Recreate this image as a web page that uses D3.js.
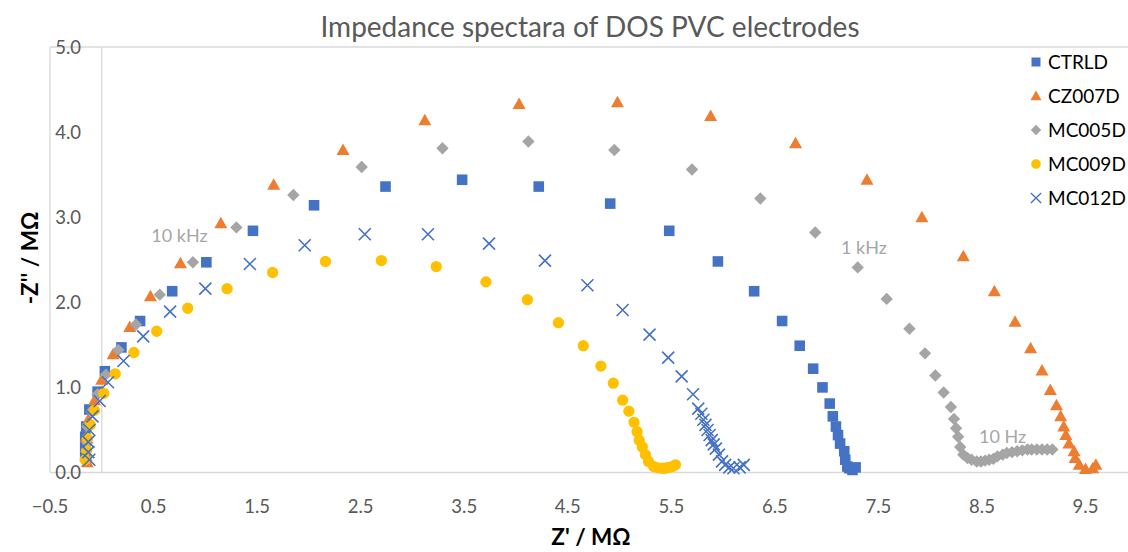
<!DOCTYPE html>
<html>
<head>
<meta charset="utf-8">
<script src="https://cdn.jsdelivr.net/npm/d3@7"></script>
<style>
  body { margin: 0; background: #fff; }
  svg { font-family: Lato, "Open Sans", sans-serif; }
  .tick-label { fill: #595959; font-size: 18.5px; }
  .axis-title { fill: #000; font-size: 22.5px; font-weight: bold; }
  .note { fill: #a6a6a6; font-size: 18px; }
  .legend-text { fill: #000; font-size: 19px; }
</style>
</head>
<body>
<svg id="chart" width="1128" height="552"></svg>
<script>
// tick values
var xTicks = [-0.5, 0.5, 1.5, 2.5, 3.5, 4.5, 5.5, 6.5, 7.5, 8.5, 9.5];
var yTicks = [0.0, 1.0, 2.0, 3.0, 4.0, 5.0];

// series names
var seriesNames = ["CTRLD", "CZ007D", "MC005D", "MC009D", "MC012D"];

// Z' (MOhm) and -Z'' (MOhm)
var ctrldX = [-0.16,-0.16,-0.16,-0.15,-0.12,-0.04,0.03,0.19,0.37,0.68,1.01,1.46,2.05,2.74,3.48,4.22,4.91,5.48,5.95,6.30,6.57,6.74,6.87,6.96,7.03,7.06,7.09,7.11,7.13,7.17,7.18,7.20,7.22,7.25,7.28];
var ctrldY = [0.19,0.30,0.42,0.54,0.74,0.95,1.19,1.47,1.78,2.13,2.47,2.84,3.14,3.36,3.44,3.36,3.16,2.84,2.48,2.13,1.78,1.49,1.22,1.00,0.81,0.66,0.54,0.44,0.34,0.25,0.15,0.07,0.05,0.03,0.06];

var cz007X = [-0.14,-0.15,-0.15,-0.13,-0.07,0.00,0.11,0.27,0.47,0.76,1.15,1.66,2.33,3.12,4.03,4.98,5.88,6.70,7.39,7.92,8.32,8.62,8.82,8.97,9.08,9.16,9.22,9.26,9.29,9.31,9.34,9.39,9.40,9.44,9.50,9.57,9.60];
var cz007Y = [0.12,0.19,0.42,0.62,0.85,1.09,1.39,1.71,2.07,2.46,2.93,3.38,3.79,4.14,4.33,4.35,4.19,3.87,3.44,3.00,2.54,2.13,1.77,1.46,1.20,0.97,0.79,0.66,0.54,0.44,0.34,0.25,0.17,0.09,0.04,0.05,0.09];

var mc005X = [-0.15,-0.14,-0.14,-0.10,-0.04,0.04,0.16,0.33,0.56,0.88,1.30,1.85,2.51,3.29,4.12,4.95,5.70,6.36,6.89,7.30,7.58,7.80,7.95,8.05,8.13,8.20,8.23,8.25,8.27,8.29,8.32,8.36,8.40,8.45,8.49,8.53,8.57,8.61,8.65,8.70,8.74,8.79,8.84,8.89,8.94,8.98,9.03,9.08,9.13,9.18];
var mc005Y = [0.25,0.35,0.54,0.72,0.92,1.15,1.44,1.74,2.09,2.47,2.88,3.26,3.59,3.81,3.89,3.79,3.56,3.22,2.82,2.41,2.04,1.69,1.40,1.14,0.94,0.77,0.63,0.52,0.42,0.30,0.21,0.17,0.15,0.13,0.13,0.14,0.15,0.16,0.19,0.21,0.23,0.24,0.25,0.26,0.27,0.27,0.27,0.27,0.27,0.27];

var mc009X = [-0.16,-0.145,-0.14,-0.11,-0.07,0.02,0.13,0.31,0.53,0.83,1.21,1.65,2.16,2.70,3.23,3.71,4.11,4.41,4.65,4.82,4.94,5.03,5.09,5.14,5.17,5.19,5.22,5.25,5.28,5.33,5.37,5.41,5.44,5.47,5.51,5.54];
var mc009Y = [0.15,0.26,0.40,0.56,0.73,0.93,1.16,1.41,1.66,1.93,2.16,2.35,2.48,2.49,2.42,2.24,2.03,1.76,1.49,1.25,1.05,0.85,0.72,0.59,0.48,0.38,0.30,0.21,0.13,0.07,0.055,0.05,0.05,0.06,0.07,0.09];

var mc012X = [-0.12,-0.13,-0.13,-0.12,-0.09,-0.02,0.06,0.21,0.40,0.66,1.00,1.43,1.96,2.54,3.15,3.74,4.28,4.69,5.03,5.29,5.47,5.60,5.71,5.76,5.79,5.81,5.83,5.85,5.87,5.89,5.91,5.93,5.96,5.99,6.02,6.06,6.10,6.16,6.20];
var mc012Y = [0.15,0.24,0.36,0.50,0.66,0.84,1.06,1.31,1.60,1.89,2.16,2.45,2.67,2.80,2.80,2.69,2.49,2.20,1.91,1.62,1.35,1.13,0.92,0.75,0.69,0.62,0.56,0.50,0.44,0.38,0.33,0.28,0.21,0.13,0.09,0.06,0.05,0.06,0.09];

// frequency annotations
var notes = [
  {text: "10 kHz", x: 0.75, y: 2.78},
  {text: "1 kHz",  x: 7.36, y: 2.64},
  {text: "10 Hz",  x: 8.70, y: 0.42}
];

var svg = d3.select("#chart");

var x = d3.scaleLinear().domain([-0.5, 10.0]).range([50, 50 + 10.5 * 103.55]);
var y = d3.scaleLinear().domain([0, 5]).range([472.5, 47]);

var plotRight = 1128;

/// plot frame (left + top) and the axes through zero
svg.append("line").attr("x1", x(-0.5)).attr("x2", x(-0.5)).attr("y1", y(5)).attr("y2", y(0))
  .attr("stroke", "#d9d9d9").attr("stroke-width", 1.3);
svg.append("line").attr("x1", x(-0.5)).attr("x2", plotRight).attr("y1", y(5)).attr("y2", y(5))
  .attr("stroke", "#d9d9d9").attr("stroke-width", 1.3);
svg.append("line").attr("x1", x(0)).attr("x2", x(0)).attr("y1", y(5)).attr("y2", y(0))
  .attr("stroke", "#d9d9d9").attr("stroke-width", 1.3);
svg.append("line").attr("x1", x(-0.5)).attr("x2", plotRight).attr("y1", y(0)).attr("y2", y(0))
  .attr("stroke", "#d9d9d9").attr("stroke-width", 1.3);

/// tick labels
svg.append("g").selectAll("text").data(xTicks).join("text")
  .attr("class", "tick-label")
  .attr("x", function(d) { return x(d); })
  .attr("y", 513)
  .attr("text-anchor", "middle")
  .text(function(d) { return d3.format(".1f")(d); });

svg.append("g").selectAll("text").data(yTicks).join("text")
  .attr("class", "tick-label")
  .attr("x", 81)
  .attr("y", function(d) { return y(d) + 6.5; })
  .attr("text-anchor", "end")
  .text(function(d) { return d3.format(".1f")(d); });

/// titles
svg.append("text").attr("x", 590).attr("y", 37).attr("text-anchor", "middle")
  .attr("fill", "#595959").style("font-size", "28px")
  .text("Impedance spectara of DOS PVC electrodes");

svg.append("text").attr("class", "axis-title").attr("x", 591).attr("y", 545)
  .attr("text-anchor", "middle").text("Z' / M\u03a9");

svg.append("text").attr("class", "axis-title")
  .attr("transform", "translate(38,258) rotate(-90)")
  .attr("text-anchor", "middle").text("-Z'' / M\u03a9");

/// marker shapes
var squarePath = d3.symbol().type(d3.symbolSquare).size(112)();
var circlePath = d3.symbol().type(d3.symbolCircle).size(100)();
var trianglePath = "M0,-6.5L6.5,5L-6.5,5Z";
var diamondPath = "M0,-6.2L6.2,0L0,6.2L-6.2,0Z";
var crossPath = "M-6,-6L6,6M-6,6L6,-6";

var series = [
  {name: seriesNames[0], xs: ctrldX, ys: ctrldY, path: squarePath,   fill: "#4472c4", stroke: "none"},
  {name: seriesNames[1], xs: cz007X, ys: cz007Y, path: trianglePath, fill: "#ed7d31", stroke: "none"},
  {name: seriesNames[2], xs: mc005X, ys: mc005Y, path: diamondPath,  fill: "#a5a5a5", stroke: "none"},
  {name: seriesNames[3], xs: mc009X, ys: mc009Y, path: circlePath,   fill: "#ffc000", stroke: "none"},
  {name: seriesNames[4], xs: mc012X, ys: mc012Y, path: crossPath,    fill: "none",    stroke: "#4472c4"}
];

series.forEach(function(s) {
  var pts = s.xs.map(function(v, i) { return [v, s.ys[i]]; });
  svg.append("g").selectAll("path").data(pts).join("path")
    .attr("transform", function(d) { return "translate(" + x(d[0]) + "," + y(d[1]) + ")"; })
    .attr("d", s.path)
    .attr("fill", s.fill)
    .attr("stroke", s.stroke)
    .attr("stroke-width", 1.6);
});

/// frequency notes
svg.append("g").selectAll("text").data(notes).join("text")
  .attr("class", "note")
  .attr("x", function(d) { return x(d.x); })
  .attr("y", function(d) { return y(d.y) + 6; })
  .attr("text-anchor", "middle")
  .text(function(d) { return d.text; });

/// legend
var legend = svg.append("g").attr("transform", "translate(1036,62)");
series.forEach(function(s, i) {
  var row = legend.append("g").attr("transform", "translate(0," + (i * 34) + ")");
  row.append("path")
    .attr("d", s.path)
    .attr("transform", "scale(0.85)")
    .attr("fill", s.fill)
    .attr("stroke", s.stroke)
    .attr("stroke-width", 1.6);
  row.append("text").attr("class", "legend-text")
    .attr("x", 12).attr("y", 7).text(s.name);
});
</script>
</body>
</html>
